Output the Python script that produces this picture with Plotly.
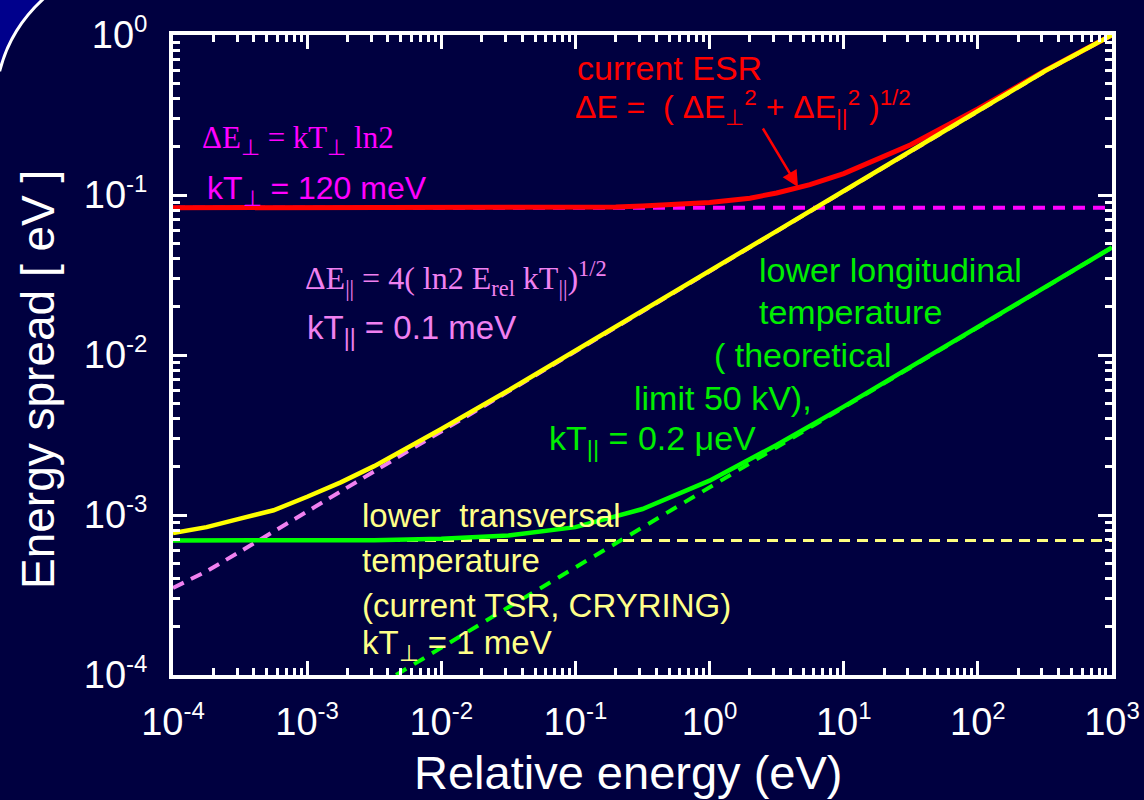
import plotly.graph_objects as go

# ---------------- data ----------------
# energy grids (eV)
E_par = [1e-4, 1.78e-4, 3.16e-4, 5.62e-4, 1e-3, 1.78e-3, 3.16e-3, 5.62e-3, 1e-2,
         3.16e-2, 1e-1, 3.16e-1, 1, 3.16, 10, 31.6, 100, 316, 1000]
# longitudinal spread, kT_par = 0.1 meV (violet dashed)
dE_par_01meV = [3.5e-4, 4.45e-4, 5.9e-4, 7.9e-4, 1.05e-3, 1.4e-3, 1.87e-3, 2.5e-3, 3.33e-3,
                5.92e-3, 1.05e-2, 1.87e-2, 3.33e-2, 5.92e-2, 0.105, 0.187, 0.333, 0.592, 1.0]
# total, transverse 1 meV + longitudinal 0.1 meV (yellow solid)
dE_tot_yellow = [7.7e-4, 8.4e-4, 9.5e-4, 1.07e-3, 1.3e-3, 1.6e-3, 2.02e-3, 2.62e-3, 3.45e-3,
                 6.0e-3, 1.07e-2, 1.88e-2, 3.36e-2, 5.95e-2, 0.106, 0.188, 0.335, 0.595, 1.0]

E_red = [1e-4, 1e-3, 1e-2, 1e-1, 0.2, 0.316, 0.6, 1, 2, 3.16, 5.6, 10, 31.6, 100, 316, 1000]
# current ESR total (red)
dE_red = [0.0832, 0.0832, 0.0833, 0.0836, 0.0842, 0.0853, 0.0872, 0.0898, 0.0955, 0.103,
          0.116, 0.136, 0.206, 0.345, 0.598, 1.0]

E_green = [1e-4, 1e-3, 3.16e-3, 1e-2, 3.16e-2, 1e-1, 3.16e-1, 1, 3.16, 10, 31.6, 100, 316, 1000]
# total, transverse 1 meV + longitudinal 0.2 ueV (green solid)
dE_green = [6.93e-4, 6.93e-4, 6.96e-4, 7.1e-4, 7.45e-4, 8.4e-4, 1.09e-3, 1.64e-3, 2.74e-3,
            4.76e-3, 8.4e-3, 1.49e-2, 2.65e-2, 4.7e-2]

E_green_d = [4.6e-3, 1e-2, 3.16e-2, 1e-1, 3.16e-1, 1, 3.16, 10, 31.6, 100, 316, 1000]
# longitudinal only, kT_par = 0.2 ueV (green dashed)
dE_green_d = [1.0e-4, 1.49e-4, 2.65e-4, 4.71e-4, 8.37e-4, 1.49e-3, 2.65e-3, 4.71e-3,
              8.37e-3, 1.49e-2, 2.65e-2, 4.7e-2]

E_flat = [1e-4, 1000]
dE_perp_120meV = [0.0832, 0.0832]   # magenta dashed
dE_perp_1meV = [6.93e-4, 6.93e-4]   # light-yellow dashed

x_ticks = [1e-4, 1e-3, 1e-2, 1e-1, 1, 10, 100, 1000]
x_exps = ["-4", "-3", "-2", "-1", "0", "1", "2", "3"]
y_ticks = [1e-4, 1e-3, 1e-2, 1e-1, 1]
y_exps = ["-4", "-3", "-2", "-1", "0"]

# ---------------- styling ----------------
BG = "#000040"
SANS = "Liberation Sans, Arial, sans-serif"
SERIF = "Liberation Serif, Times New Roman, serif"
L, R, T, B = 173, 1112, 35, 675
W, H = 1144, 800


def px(x):
    return (x - L) / (R - L)


def py(y):
    return (B - y) / (B - T)


def pow_label(e):
    return "10<sup><span style='font-size:24px'>%s</span></sup>" % e


minor_x = [k * 10.0 ** n for n in range(-4, 3) for k in range(2, 10)]
minor_y = [k * 10.0 ** n for n in range(-4, 0) for k in range(2, 10)]

fig = go.Figure()

fig.add_trace(go.Scatter(x=E_flat, y=dE_perp_120meV, mode="lines",
                         line=dict(color="#ff00ff", width=4, dash="12px,8px")))
fig.add_trace(go.Scatter(x=E_flat, y=dE_perp_1meV, mode="lines",
                         line=dict(color="#ffff80", width=3, dash="11px,7px")))
fig.add_trace(go.Scatter(x=E_red, y=dE_red, mode="lines",
                         line=dict(color="#ff0000", width=5)))
fig.add_trace(go.Scatter(x=E_par, y=dE_par_01meV, mode="lines",
                         line=dict(color="#f080f0", width=4, dash="12px,8px")))
fig.add_trace(go.Scatter(x=E_par, y=dE_tot_yellow, mode="lines",
                         line=dict(color="#ffff00", width=4.5)))
fig.add_trace(go.Scatter(x=E_green_d, y=dE_green_d, mode="lines",
                         line=dict(color="#00ff00", width=4, dash="12px,9px")))
fig.add_trace(go.Scatter(x=E_green, y=dE_green, mode="lines",
                         line=dict(color="#00ff00", width=4.5)))

axis_common = dict(
    type="log", showline=True, linecolor="white", linewidth=4, mirror="allticks",
    ticks="inside", ticklen=14, tickwidth=3, tickcolor="white",
    tickfont=dict(family=SANS, size=38, color="white"),
    showgrid=False, zeroline=False, tickmode="array", automargin=False,
)

fig.update_xaxes(**axis_common, range=[-4, 3], tickvals=x_ticks,
                 ticktext=[pow_label(e) for e in x_exps],
                 ticklabelstandoff=10,
                 minor=dict(ticks="inside", ticklen=7, tickwidth=3, tickcolor="white",
                            tickmode="array", tickvals=minor_x, showgrid=False))
fig.update_yaxes(**axis_common, range=[-4, 0], tickvals=y_ticks,
                 ticktext=[pow_label(e) for e in y_exps],
                 ticklabelstandoff=14,
                 minor=dict(ticks="inside", ticklen=7, tickwidth=3, tickcolor="white",
                            tickmode="array", tickvals=minor_y, showgrid=False))

annotations = []


def txt(x, y, text, color, size, family=SANS, anchor="left", angle=0):
    annotations.append(dict(x=px(x), y=py(y), xref="paper", yref="paper", text=text,
                            showarrow=False, xanchor=anchor, yanchor="middle",
                            textangle=angle,
                            font=dict(family=family, size=size, color=color)))


# axis titles
txt(628, 772, "Relative energy (eV)", "white", 47, SANS, anchor="center")
txt(38, 380, "Energy spread [ eV ]", "white", 46, SANS, anchor="center", angle=-90)

RED = "#ff0000"
MAG = "#ff00ff"
VIO = "#f080f0"
GRN = "#00ee00"
LY = "#ffff88"

txt(575, 68, "current ESR", RED, 34)
txt(573, 107, "ΔE =  ( ΔE<sub>⊥</sub><sup>2</sup> + ΔE<sub>||</sub><sup>2</sup> )<sup>1/2</sup>", RED, 32)
txt(200, 140, "ΔE<sub>⊥</sub> = kT<sub>⊥</sub> ln2", MAG, 31, SERIF)
txt(205, 190, "kT<sub>⊥</sub> = 120 meV", MAG, 32)
txt(303, 278, "ΔE<sub>||</sub> = 4( ln2 E<sub>rel</sub> kT<sub>||</sub>)<sup>1/2</sup>", VIO, 32, SERIF)
txt(305, 330, "kT<sub>||</sub> = 0.1 meV", VIO, 33)

txt(757, 270, "lower longitudinal", GRN, 34)
txt(757, 312, "temperature", GRN, 34)
txt(712, 355, "( theoretical", GRN, 34)
txt(632, 398, "limit 50 kV),", GRN, 34)
txt(547, 440, "kT<sub>||</sub> = 0.2 μeV", GRN, 34)

txt(360, 515, "lower  transversal", LY, 33)
txt(360, 560, "temperature", LY, 33)
txt(360, 605, "(current TSR, CRYRING)", LY, 33)
txt(360, 645, "kT<sub>⊥</sub> = 1 meV", LY, 33)

# arrow pointing at the red curve
annotations.append(dict(x=px(798), y=py(187), xref="paper", yref="paper", text="",
                        showarrow=True, ax=-36, ay=-60, arrowcolor=RED, arrowwidth=2.5,
                        arrowhead=2, arrowsize=1.3))


def path_px(points):
    s = ""
    for cmd, pts in points:
        s += cmd + " " + " ".join("%.5f,%.5f" % (px(a), py(b)) for a, b in pts) + " "
    return s + "Z"


corner = path_px([("M", [(-20, -20)]), ("L", [(68, -20), (64, 0)]),
                  ("Q", [(14, 15), (0, 70)]), ("L", [(-20, 72)])])

fig.update_layout(
    width=W, height=H, autosize=False,
    margin=dict(l=L, r=W - R, t=T, b=H - B),
    paper_bgcolor=BG, plot_bgcolor=BG,
    showlegend=False,
    annotations=annotations,
    shapes=[dict(type="path", xref="paper", yref="paper", path=corner,
                 fillcolor="#00008c", line=dict(color="white", width=3), layer="below")],
)

fig.write_html(
    "out.html",
    config={"responsive": False, "displayModeBar": False},
    post_script="document.body.style.margin='0px';document.body.style.overflow='hidden';",
)
